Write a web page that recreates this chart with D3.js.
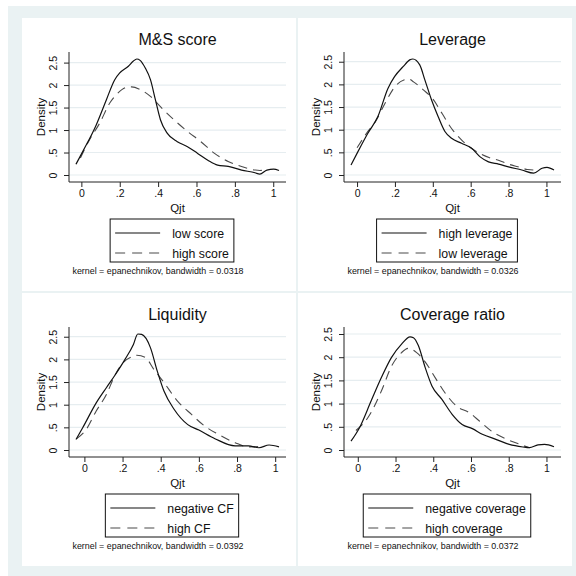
<!DOCTYPE html>
<html>
<head>
<meta charset="utf-8">
<script src="https://cdn.jsdelivr.net/npm/d3@7"></script>
<style>
  body { margin: 0; background: #fff; }
  text { font-family: "Liberation Sans", Arial, Helvetica, sans-serif; fill: #111; }
</style>
</head>
<body>
<script>
// kdensity of Qjt, four comparisons

const titles = ["M&S score", "Leverage", "Liquidity", "Coverage ratio"];
const solidNames = ["low score", "high leverage", "negative CF", "negative coverage"];
const dashNames = ["high score", "low leverage", "high CF", "high coverage"];
const bandwidths = ["0.0318", "0.0326", "0.0392", "0.0372"];
const xTicks = [0, 0.2, 0.4, 0.6, 0.8, 1];
const yTicks = [0, 0.5, 1, 1.5, 2, 2.5];

// [Qjt, density] pairs
const msLow = [[-0.028, 0.24], [0.007, 0.52], [0.078, 1.12], [0.13, 1.67], [0.174, 2.12], [0.2, 2.27],
  [0.245, 2.42], [0.27, 2.53], [0.289, 2.58], [0.306, 2.55], [0.333, 2.38], [0.36, 2.12], [0.386, 1.67],
  [0.412, 1.23], [0.447, 0.93], [0.5, 0.74], [0.553, 0.63], [0.606, 0.48], [0.659, 0.33], [0.71, 0.22],
  [0.765, 0.19], [0.835, 0.11], [0.905, 0.05], [0.93, 0.02], [0.967, 0.11], [1.002, 0.13], [1.03, 0.10]];
const msHigh = [[-0.005, 0.38], [0.042, 0.78], [0.095, 1.15], [0.148, 1.6], [0.19, 1.82], [0.236, 1.95],
  [0.262, 1.96], [0.306, 1.9], [0.36, 1.75], [0.412, 1.52], [0.482, 1.23], [0.553, 0.97], [0.623, 0.74],
  [0.694, 0.48], [0.765, 0.3], [0.835, 0.19], [0.905, 0.11], [0.93, 0.1], [0.96, 0.12]];

const levHigh = [[-0.032, 0.22], [0.004, 0.51], [0.057, 0.92], [0.11, 1.29], [0.163, 1.91], [0.198, 2.17],
  [0.243, 2.39], [0.278, 2.54], [0.295, 2.56], [0.331, 2.43], [0.358, 2.1], [0.393, 1.66], [0.428, 1.29],
  [0.464, 0.96], [0.499, 0.81], [0.552, 0.7], [0.605, 0.59], [0.65, 0.4], [0.694, 0.29], [0.747, 0.24],
  [0.8, 0.18], [0.87, 0.11], [0.933, 0.04], [0.977, 0.15], [1.003, 0.17], [1.04, 0.11]];
const levLow = [[0.0, 0.6], [0.05, 0.92], [0.1, 1.2], [0.15, 1.6], [0.2, 1.95], [0.25, 2.1], [0.27, 2.12],
  [0.3, 2.05], [0.35, 1.88], [0.4, 1.68], [0.45, 1.35], [0.5, 1.02], [0.55, 0.78], [0.6, 0.6],
  [0.65, 0.47], [0.7, 0.38], [0.75, 0.32], [0.8, 0.24], [0.85, 0.18], [0.9, 0.12], [0.93, 0.11], [0.96, 0.14]];

const liqNeg = [[-0.044, 0.23], [-0.009, 0.49], [0.062, 1.04], [0.116, 1.38], [0.16, 1.65], [0.213, 2.0],
  [0.257, 2.33], [0.28, 2.56], [0.3, 2.55], [0.346, 2.26], [0.382, 1.74], [0.417, 1.3], [0.47, 0.9],
  [0.542, 0.56], [0.6, 0.44], [0.684, 0.25], [0.79, 0.09], [0.86, 0.09], [0.915, 0.05], [0.968, 0.11],
  [1.02, 0.07]];
const liqHigh = [[-0.04, 0.25], [0.009, 0.45], [0.062, 0.86], [0.116, 1.23], [0.16, 1.65], [0.204, 1.93],
  [0.257, 2.07], [0.275, 2.09], [0.32, 2.04], [0.364, 1.78], [0.417, 1.49], [0.488, 1.08], [0.56, 0.79],
  [0.63, 0.53], [0.7, 0.35], [0.79, 0.16], [0.86, 0.07], [0.93, 0.08]];

const covNeg = [[-0.036, 0.19], [0.009, 0.48], [0.071, 1.06], [0.125, 1.56], [0.178, 1.99], [0.232, 2.28],
  [0.277, 2.44], [0.295, 2.42], [0.321, 2.25], [0.357, 1.78], [0.393, 1.38], [0.446, 1.09], [0.5, 0.77],
  [0.553, 0.55], [0.607, 0.46], [0.66, 0.34], [0.732, 0.23], [0.803, 0.12], [0.875, 0.065], [0.91, 0.05],
  [0.955, 0.11], [0.99, 0.12], [1.04, 0.07]];
const covHigh = [[-0.01, 0.42], [0.054, 0.7], [0.125, 1.27], [0.178, 1.8], [0.232, 2.1], [0.268, 2.19],
  [0.312, 2.1], [0.357, 1.9], [0.41, 1.56], [0.468, 1.2], [0.522, 0.95], [0.593, 0.8], [0.646, 0.62],
  [0.718, 0.38], [0.79, 0.23], [0.86, 0.12], [0.91, 0.05]];

const solidSeries = [msLow, levHigh, liqNeg, covNeg];
const dashSeries = [msHigh, levLow, liqHigh, covHigh];

const width = 576;
const height = 576;

const svg = d3.select("body").append("svg")
  .attr("width", width)
  .attr("height", height);

// outer graph region
svg.append("rect")
  .attr("x", 8).attr("y", 6)
  .attr("width", width - 8).attr("height", height - 6)
  .attr("fill", "#eaf2f3");

// panel origins (white boxes)
const panels = [[22, 18], [298, 18], [22, 293], [298, 293]];
const contentOrigin = [[22, 18], [297, 18], [22, 293], [297, 293]];
const panelW = 274, panelH = 273;

// plot box inside each panel
const plot = { left: 47, right: 264, top: 34, bottom: 164 };
const inset = 7;

panels.forEach(p => {
  svg.append("rect")
    .attr("x", p[0]).attr("y", p[1])
    .attr("width", panelW).attr("height", panelH)
    .attr("fill", "#fff");
});

titles.forEach((title, i) => {
  const g = svg.append("g")
    .attr("transform", `translate(${contentOrigin[i][0]},${contentOrigin[i][1]})`);

  const all = solidSeries[i].concat(dashSeries[i]);
  const x = d3.scaleLinear()
    .domain(d3.extent(all, d => d[0]))
    .range([plot.left + inset, plot.right - inset]);
  const y = d3.scaleLinear()
    .domain([0, Math.max(2.5, d3.max(all, d => d[1]))])
    .range([plot.bottom - inset, plot.top + inset]);

  // gridlines
  g.append("g").selectAll("line")
    .data(yTicks)
    .enter().append("line")
    .attr("x1", plot.left).attr("x2", plot.right)
    .attr("y1", d => y(d)).attr("y2", d => y(d))
    .attr("stroke", "#e6edf0")
    .attr("stroke-width", 1.2);

  // y axis
  const yAxis = g.append("g")
    .attr("transform", `translate(${plot.left},0)`)
    .call(d3.axisLeft(y).tickValues(yTicks).tickSize(5)
      .tickFormat(d => d3.format("")(d).replace(/^0\./, ".")));
  yAxis.select(".domain").attr("d", `M0,${plot.top}V${plot.bottom}`).attr("stroke", "#222");
  yAxis.selectAll(".tick line").attr("stroke", "#222");
  yAxis.selectAll(".tick text")
    .attr("x", null).attr("dy", null)
    .attr("font-size", 10.5)
    .attr("text-anchor", "middle")
    .attr("transform", "translate(-16,0) rotate(-90)")
    .attr("dy", "0.35em");

  // x axis
  const xAxis = g.append("g")
    .attr("transform", `translate(0,${plot.bottom})`)
    .call(d3.axisBottom(x).tickValues(xTicks).tickSize(5)
      .tickFormat(d => d3.format("")(d).replace(/^0\./, ".")));
  xAxis.select(".domain").attr("d", `M${plot.left},0H${plot.right}`).attr("stroke", "#222");
  xAxis.selectAll(".tick line").attr("stroke", "#222");
  xAxis.selectAll(".tick text")
    .attr("font-size", 10.5)
    .attr("y", 15).attr("dy", null);

  // axis titles
  g.append("text")
    .attr("transform", `translate(19,${(plot.top + plot.bottom) / 2}) rotate(-90)`)
    .attr("text-anchor", "middle")
    .attr("dy", "0.35em")
    .attr("font-size", 11.5)
    .text("Density");

  g.append("text")
    .attr("x", (plot.left + plot.right) / 2)
    .attr("y", 194)
    .attr("text-anchor", "middle")
    .attr("font-size", 11.5)
    .text("Qjt");

  // panel title
  g.append("text")
    .attr("x", (plot.left + plot.right) / 2)
    .attr("y", 27)
    .attr("text-anchor", "middle")
    .attr("font-size", 16)
    .text(title);

  // density lines
  const line = d3.line()
    .x(d => x(d[0]))
    .y(d => y(d[1]))
    .curve(d3.curveMonotoneX);

  g.append("path")
    .datum(dashSeries[i])
    .attr("d", line)
    .attr("fill", "none")
    .attr("stroke", "#4a4a4a")
    .attr("stroke-width", 1.1)
    .attr("stroke-dasharray", "9,6");

  g.append("path")
    .datum(solidSeries[i])
    .attr("d", line)
    .attr("fill", "none")
    .attr("stroke", "#111")
    .attr("stroke-width", 1.2);

  // legend
  const legend = g.append("g");
  const names = [solidNames[i], dashNames[i]];
  const labels = legend.selectAll("text")
    .data(names)
    .enter().append("text")
    .attr("y", (d, k) => 215 + k * 20 + 4.5)
    .attr("font-size", 12.3)
    .text(d => d);
  const textW = d3.max(labels.nodes(), n => n.getComputedTextLength());
  const boxW = 5 + 45 + 12 + textW + 5;
  const boxX = 150 - boxW / 2;
  labels.attr("x", boxX + 62);

  legend.insert("rect", "text")
    .attr("x", boxX).attr("y", 201)
    .attr("width", boxW).attr("height", 43)
    .attr("fill", "#fff")
    .attr("stroke", "#111")
    .attr("stroke-width", 1);

  legend.selectAll("line")
    .data([0, 1])
    .enter().append("line")
    .attr("x1", boxX + 5).attr("x2", boxX + 50)
    .attr("y1", k => 215 + k * 20).attr("y2", k => 215 + k * 20)
    .attr("stroke", k => k ? "#4a4a4a" : "#111")
    .attr("stroke-width", 1.2)
    .attr("stroke-dasharray", k => k ? "10,7" : null);

  // note
  g.append("text")
    .attr("x", 136)
    .attr("y", 256)
    .attr("text-anchor", "middle")
    .attr("font-size", 8.9)
    .text(`kernel = epanechnikov, bandwidth = ${bandwidths[i]}`);
});
</script>
</body>
</html>
